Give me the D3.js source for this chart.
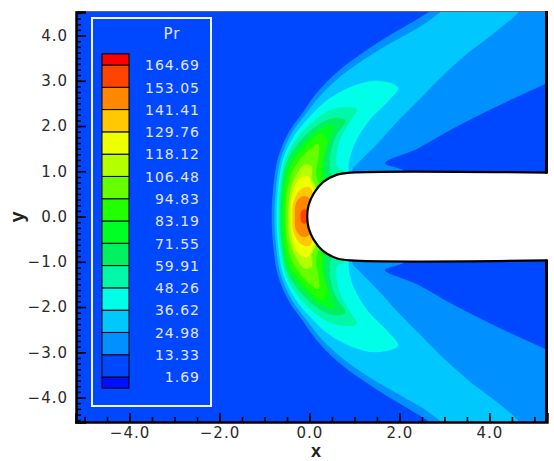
<!DOCTYPE html>
<html>
<head>
<meta charset="UTF-8">
<script src="https://d3js.org/d3.v7.min.js"></script>
<style>
  body { margin: 0; background: #fff; }
  svg text { font-family: 'DejaVu Sans', sans-serif; }
</style>
</head>
<body>
<div id="chart"></div>
<script>
// contour levels of Pr, as in the legend
const levels = [1.69, 13.33, 24.98, 36.62, 48.26, 59.91, 71.55, 83.19, 94.83, 106.48, 118.12, 129.76, 141.41, 153.05, 164.69];
// band colours, lowest band first (below 1.69 ... above 164.69)
const bandColors = ["#0010ff", "#0048ff", "#0090ff", "#00c8ff", "#00ffe8", "#00f8a8", "#00f060", "#00ff22",
                    "#22ff00", "#66ff00", "#b4ff00", "#eeff00", "#ffc800", "#ff8800", "#ff4400", "#ff0000"];

// isolines, upper half (y >= 0), from the axis round to the axis
const iso13 = [[-0.84,0],[-0.81,0.6],[-0.7,1.3],[-0.45,1.88],[-0.15,2.3],[0.15,2.72],[0.6,3.18],[1.2,3.63],[1.86,4.05],[2.46,4.4],[3.0,4.75],[3.6,5.2],[6.2,5.2],[6.2,3.4],[5.28,2.95],[4.2,2.45],[3.2,1.95],[2.4,1.5],[1.68,1.18],[2.1,1.02],[2.6,0.6],[2.6,0]];
const iso25 = [[-0.78,0],[-0.75,0.6],[-0.64,1.28],[-0.39,1.85],[-0.08,2.27],[0.24,2.67],[0.72,3.12],[1.35,3.56],[2.02,3.95],[2.62,4.3],[3.2,4.8],[3.5,5.3],[4.9,5.3],[4.75,4.7],[4.63,4.5],[4.1,4.05],[3.57,3.65],[3.0,3.15],[2.5,2.65],[2.0,2.15],[1.5,1.6],[1.1,1.2],[0.95,1.0],[1.3,0.5],[1.3,0]];
const iso37 = [[-0.73,0],[-0.7,0.6],[-0.59,1.26],[-0.33,1.8],[0.0,2.2],[0.4,2.58],[0.95,2.88],[1.5,3.0],[1.97,2.85],[1.75,2.55],[1.35,2.15],[1.05,1.7],[0.9,1.3],[0.88,1.0],[1.2,0.5],[1.2,0]];
const iso48 = [[-0.69,0],[-0.66,0.6],[-0.55,1.23],[-0.27,1.74],[0.1,2.12],[0.55,2.38],[1.05,2.38],[0.9,2.1],[0.7,1.75],[0.6,1.35],[0.62,1.1],[0.8,0.98],[1.1,0.5],[1.1,0]];
const iso60 = [[-0.65,0],[-0.62,0.6],[-0.51,1.2],[-0.2,1.68],[0.18,2.02],[0.55,2.18],[0.8,2.12],[0.6,1.8],[0.48,1.45],[0.45,1.15],[0.5,0.9],[0.8,0.5],[0.8,0]];
const iso72 = [[-0.62,0],[-0.59,0.6],[-0.47,1.16],[-0.14,1.62],[0.22,1.93],[0.55,2.02],[0.45,1.7],[0.36,1.4],[0.33,1.1],[0.35,0.85],[0.6,0.4],[0.6,0]];
const iso83 = [[-0.58,0],[-0.55,0.6],[-0.42,1.12],[-0.08,1.57],[0.28,1.85],[0.4,1.65],[0.3,1.3],[0.28,1.0],[0.3,0.8],[0.5,0.4],[0.5,0]];
const iso95 = [[-0.53,0],[-0.5,0.55],[-0.37,1.02],[-0.07,1.42],[0.2,1.6],[0.2,1.3],[0.15,1.0],[0.2,0.75],[0.4,0.4],[0.4,0]];
const iso106 = [[-0.47,0],[-0.44,0.5],[-0.3,0.9],[-0.1,1.15],[0.05,1.1],[0.05,0.85],[0.2,0.5],[0.3,0]];
const iso118 = [[-0.43,0],[-0.4,0.45],[-0.25,0.8],[-0.05,0.9],[0.1,0.6],[0.2,0]];
const iso130 = [[-0.38,0],[-0.35,0.35],[-0.2,0.6],[0.0,0.65],[0.1,0.4],[0.1,0]];
const iso141 = [[-0.32,0],[-0.3,0.3],[-0.15,0.45],[0.0,0.4],[0.1,0]];
const iso153 = [[-0.2,0],[-0.18,0.12],[-0.1,0.16],[0.0,0]];

// body outline, upper half, from the right edge round the nose to the axis
const bodyUpper = [[5.28,0.97],[0.92,0.97],[0.6,0.92],[0.3,0.76],[0.1,0.52],[-0.02,0.25],[-0.05,0]];

const xTicks = [-4, -2, 0, 2, 4];
const yTicks = [-4, -3, -2, -1, 0, 1, 2, 3, 4];

const W = 554, H = 461;
const x = d3.scaleLinear().domain([-5.19, 5.28]).range([76, 547]);
const y = d3.scaleLinear().domain([-4.54, 4.52]).range([422, 12]);

const svg = d3.select("#chart").append("svg").attr("width", W).attr("height", H);

svg.append("clipPath").attr("id", "plot")
  .append("rect").attr("x", 76).attr("y", 12).attr("width", 471).attr("height", 410);

const field = svg.append("g").attr("clip-path", "url(#plot)");
field.append("rect").attr("x", 76).attr("y", 12).attr("width", 471).attr("height", 410)
  .attr("fill", bandColors[1]);

function mirror(upper) {
  const lower = upper.slice(1, -1).reverse().map(d => [d[0], -d[1]]);
  return upper.concat(lower);
}

const area = d3.line().x(d => x(d[0])).y(d => y(d[1]))
  .curve(d3.curveCatmullRomClosed.alpha(0.5));

const isoLines = [iso13, iso25, iso37, iso48, iso60, iso72, iso83, iso95, iso106, iso118, iso130, iso141, iso153];
isoLines.forEach((pts, i) => {
  field.append("path")
    .attr("d", area(mirror(pts)))
    .attr("fill", bandColors[i + 2]);
});

// the body
const bodyPts = bodyUpper.concat(bodyUpper.slice(0, -1).reverse().map(d => [d[0], -d[1]]));
const bodyLine = d3.line().x(d => x(d[0])).y(d => y(d[1])).curve(d3.curveCatmullRom.alpha(0.5));
svg.append("path").attr("d", bodyLine(bodyPts))
  .attr("fill", "#fff").attr("stroke", "#000").attr("stroke-width", 2.2);

// frame
svg.append("line").attr("x1", 76).attr("x2", 547).attr("y1", 11.5).attr("y2", 11.5)
  .attr("stroke", "#666").attr("stroke-width", 1);
svg.append("line").attr("x1", x(5.28) - 0.5).attr("x2", x(5.28) - 0.5).attr("y1", 11).attr("y2", y(0.97) + 1)
  .attr("stroke", "#000").attr("stroke-width", 3);
svg.append("line").attr("x1", x(5.28) - 0.5).attr("x2", x(5.28) - 0.5).attr("y1", y(-0.97) - 1).attr("y2", 423)
  .attr("stroke", "#000").attr("stroke-width", 3);

// axes, ticks pointing inwards
const fmt = d3.format(".1f");
const yAxis = svg.append("g").attr("transform", "translate(76,0)")
  .call(d3.axisLeft(y).tickValues(yTicks).tickSize(-10).tickPadding(8).tickFormat(fmt));
svg.append("g").attr("transform", "translate(76,0)")
  .call(d3.axisLeft(y).tickValues(d3.range(-4.5, 4.51, 0.125)).tickSize(-5).tickFormat(""))
  .select(".domain").remove();
const xAxis = svg.append("g").attr("transform", "translate(0,422)")
  .call(d3.axisBottom(x).tickValues(xTicks).tickSize(-9).tickPadding(5).tickFormat(fmt));
svg.append("g").attr("transform", "translate(0,422)")
  .call(d3.axisBottom(x).tickValues(d3.range(-5, 5.01, 0.5)).tickSize(-5).tickFormat(""))
  .select(".domain").remove();

svg.selectAll(".tick line").attr("stroke", "#000").attr("stroke-width", 1.6);
yAxis.select(".domain").attr("stroke", "#000").attr("stroke-width", 2.5);
xAxis.select(".domain").attr("stroke", "#000").attr("stroke-width", 2.5);
svg.selectAll(".tick text").attr("fill", "#2a2a2a").style("font-size", "15px").style("letter-spacing", "1px");

svg.append("text").attr("x", 316).attr("y", 457).attr("text-anchor", "middle")
  .style("font-family", "'Liberation Sans', sans-serif")
  .style("font-size", "18px").style("font-weight", "bold").attr("fill", "#222").text("x");
svg.append("text").attr("transform", "translate(24,217) rotate(-90)").attr("text-anchor", "middle")
  .style("font-family", "'Liberation Sans', sans-serif")
  .style("font-size", "20px").style("font-weight", "bold").attr("fill", "#222").text("y");

// legend
const legend = svg.append("g");
legend.append("rect").attr("x", 92).attr("y", 18).attr("width", 119).attr("height", 388)
  .attr("fill", "none").attr("stroke", "#f4f4ff").attr("stroke-width", 2);
legend.append("text").attr("x", 172).attr("y", 39).attr("text-anchor", "middle")
  .attr("fill", "#e4e4ff").style("font-size", "15px").style("letter-spacing", "1px").text("Pr");

const ly = d3.scaleLinear().domain([levels[0], levels[levels.length - 1]]).range([377, 65]);
const half = (levels[1] - levels[0]) / 2;
bandColors.forEach((c, i) => {
  const lo = i === 0 ? levels[0] - half : levels[i - 1];
  const hi = i === bandColors.length - 1 ? levels[levels.length - 1] + half : levels[i];
  legend.append("rect").attr("x", 102).attr("width", 27)
    .attr("y", ly(hi)).attr("height", ly(lo) - ly(hi))
    .attr("fill", c).attr("stroke", "#000").attr("stroke-width", 1);
});
legend.selectAll("text.lab").data(levels).join("text").attr("class", "lab")
  .attr("x", 200).attr("y", d => ly(d)).attr("dy", "0.38em").attr("text-anchor", "end")
  .attr("fill", "#e4e4ff").style("font-size", "14px").style("letter-spacing", "1px")
  .text(d => d.toFixed(2));
</script>
</body>
</html>
